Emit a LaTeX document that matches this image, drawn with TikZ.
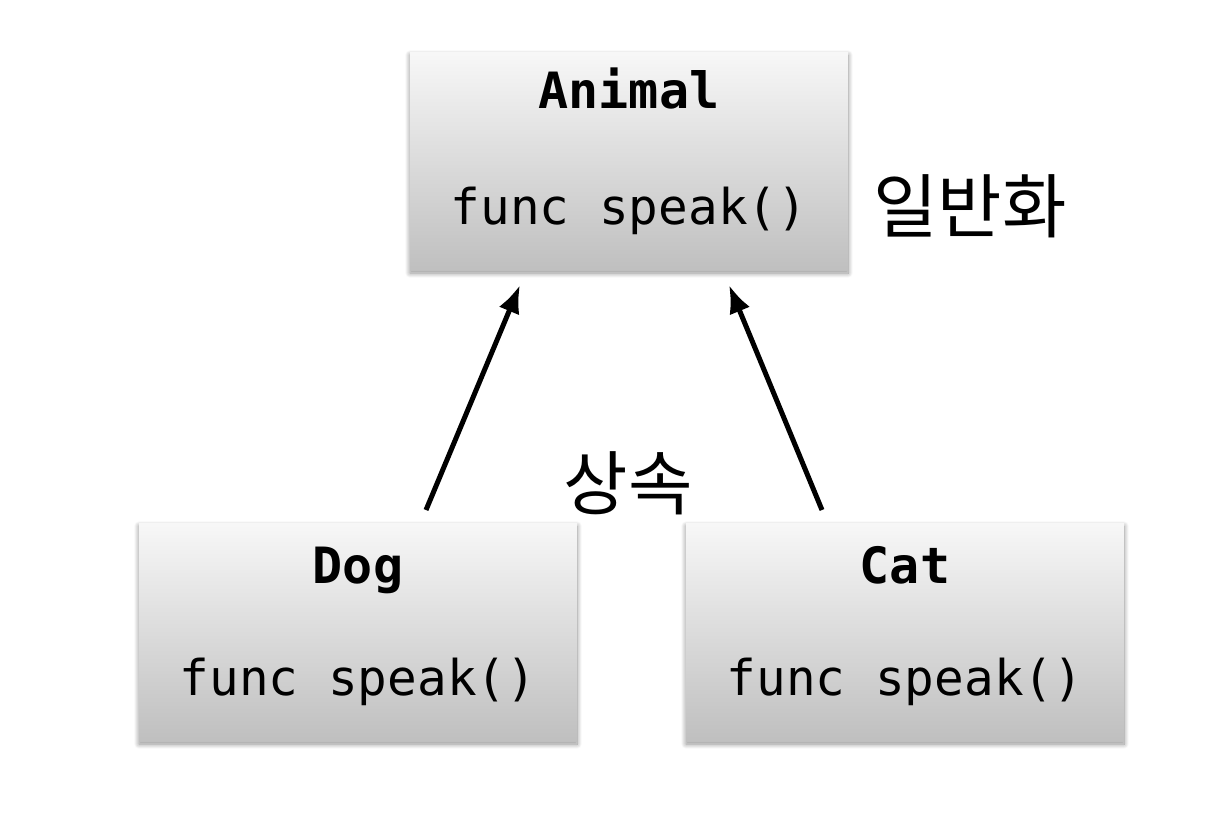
\documentclass[tikz,border=0pt]{standalone}
\usepackage{fontspec}
\setmonofont{DejaVu Sans Mono}
\newfontfamily\kofont{Noto Sans CJK KR}
\usetikzlibrary{arrows.meta,shadows.blur}
\tikzset{
  classbox/.style={rectangle, minimum width=438pt, minimum height=218pt, inner sep=0pt,
    top color=black!3, bottom color=black!25, draw=none,
    blur shadow={shadow blur steps=10, shadow xshift=0pt, shadow yshift=-3pt,
      shadow blur radius=5pt, shadow opacity=45}},
  titletext/.style={font=\fontsize{50}{52}\selectfont\ttfamily\bfseries, inner sep=0pt, anchor=base},
  methodtext/.style={font=\fontsize{49.3}{52}\selectfont\ttfamily, inner sep=0pt, anchor=base},
  kotext/.style={font=\fontsize{70}{72}\selectfont\kofont, inner sep=0pt},
  inherit/.style={line width=5pt, -{Latex[length=28pt,width=22pt]}}
}
\begin{document}
\begin{tikzpicture}[x=1pt,y=-1pt]
\useasboundingbox (0,0) rectangle (1232,820);
\node[classbox] (animal) at (629,161) {};
\node[classbox] (dog) at (358,632) {};
\node[classbox] (cat) at (905,632) {};
\node[titletext] (animalT) at (629,108) {Animal};
\node[methodtext] (animalM) at (629,224) {func speak()};
\node[titletext] (dogT) at (358,583) {Dog};
\node[methodtext] (dogM) at (358,695) {func speak()};
\node[titletext] (catT) at (905,583) {Cat};
\node[methodtext] (catM) at (905,695) {func speak()};
\node[kotext] (gen) at (970,206) {일반화};
\node[kotext] (inh) at (628,483) {상속};
\coordinate (d1) at (426,510);
\coordinate (d2) at (520,285);
\coordinate (c1) at (822,510);
\coordinate (c2) at (729,285);
\draw[inherit] (d1) -- (d2);
\draw[inherit] (c1) -- (c2);
\end{tikzpicture}
\end{document}
